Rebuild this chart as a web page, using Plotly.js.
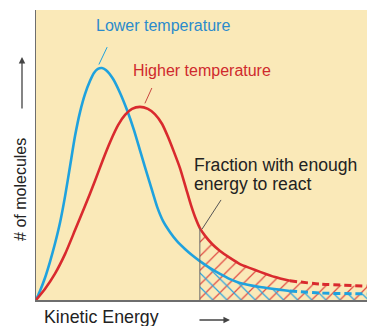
<!DOCTYPE html>
<html>
<head>
<meta charset="utf-8">
<script src="https://cdn.plot.ly/plotly-3.0.1.min.js"></script>
<style>html,body{margin:0;padding:0;background:#fff;}#chart{width:367px;height:326px;}</style>
</head>
<body>
<div id="chart"></div>
<script>
// Data (kinetic energy in arbitrary units 0..10, molecule count in arbitrary units 0..10)
const blueEnergy = [0, 0.12, 0.27, 0.42, 0.57, 0.73, 0.88, 1.03, 1.18, 1.33, 1.48, 1.63, 1.75, 1.87, 1.99, 2.11, 2.33, 2.54, 2.75, 2.96, 3.14, 3.29, 3.44, 3.66, 3.84, 4.05, 4.26, 4.50, 4.71, 4.95, 5.26, 5.56, 5.86, 6.16, 6.77, 7.67, 8.58, 10];
const blueCount  = [0, 0.31, 0.76, 1.31, 1.93, 2.69, 3.59, 4.62, 5.66, 6.48, 7.10, 7.55, 7.83, 7.97, 8.00, 7.93, 7.62, 7.14, 6.55, 5.86, 5.17, 4.59, 4.03, 3.21, 2.72, 2.34, 2.03, 1.76, 1.55, 1.34, 1.10, 0.90, 0.72, 0.59, 0.45, 0.31, 0.24, 0.21];
const redEnergy  = [0, 0.27, 0.57, 0.88, 1.18, 1.48, 1.78, 2.02, 2.24, 2.48, 2.69, 2.90, 3.14, 3.38, 3.59, 3.81, 3.99, 4.17, 4.35, 4.53, 4.68, 4.83, 4.95, 5.11, 5.32, 5.56, 5.86, 6.16, 6.47, 6.77, 7.22, 7.67, 8.58, 10];
const redCount   = [0, 0.38, 0.90, 1.59, 2.41, 3.24, 4.10, 4.83, 5.45, 6.03, 6.38, 6.59, 6.66, 6.59, 6.41, 6.07, 5.62, 5.10, 4.55, 3.86, 3.28, 2.79, 2.48, 2.21, 1.93, 1.69, 1.45, 1.24, 1.10, 0.97, 0.79, 0.66, 0.55, 0.48];
const thresholdEnergy = 4.95;   // minimum energy to react
const dashStart = 7.67;         // curves drawn dashed beyond this

const blueColor = '#1fa2de';
const redColor = '#d92a2e';

function interp(xs, ys, x) {
  for (let i = 1; i < xs.length; i++) {
    if (x <= xs[i]) {
      const t = (x - xs[i-1]) / (xs[i] - xs[i-1]);
      return ys[i-1] + t * (ys[i] - ys[i-1]);
    }
  }
  return ys[ys.length-1];
}
function segment(xs, ys, lo, hi) {
  const ox = [], oy = [];
  ox.push(lo); oy.push(interp(xs, ys, lo));
  for (let i = 0; i < xs.length; i++) if (xs[i] > lo && xs[i] < hi) { ox.push(xs[i]); oy.push(ys[i]); }
  ox.push(hi); oy.push(interp(xs, ys, hi));
  return [ox, oy];
}

const bSolid = segment(blueEnergy, blueCount, 0, dashStart);
const bDash = segment(blueEnergy, blueCount, dashStart, 10);
const rSolid = segment(redEnergy, redCount, 0, dashStart);
const rDash = segment(redEnergy, redCount, dashStart, 10);
const bHatch = segment(blueEnergy, blueCount, thresholdEnergy, 10);
const rHatch = segment(redEnergy, redCount, thresholdEnergy, 10);
const sm = 0.6;

const traces = [
  {x: rHatch[0], y: rHatch[1], type: 'scatter', mode: 'none', fill: 'tozeroy',
   fillcolor: 'rgba(0,0,0,0)', line: {shape: 'spline', smoothing: sm, width: 0},
   fillpattern: {shape: '/', fgcolor: '#e04a42', bgcolor: 'rgba(0,0,0,0)', size: 10, solidity: 0.12},
   hoverinfo: 'skip', showlegend: false, uid: 'hatchRed'},
  {x: bHatch[0], y: bHatch[1], type: 'scatter', mode: 'none', fill: 'tozeroy',
   fillcolor: 'rgba(0,0,0,0)', line: {shape: 'spline', smoothing: sm, width: 0},
   fillpattern: {shape: '\\', fgcolor: '#2aa4e0', bgcolor: 'rgba(0,0,0,0)', size: 10, solidity: 0.12},
   hoverinfo: 'skip', showlegend: false, uid: 'hatchBlue'},
  {x: bSolid[0], y: bSolid[1], type: 'scatter', mode: 'lines', line: {color: blueColor, width: 2.6, shape: 'spline', smoothing: sm}, showlegend: false},
  {x: bDash[0], y: bDash[1], type: 'scatter', mode: 'lines', line: {color: blueColor, width: 3, shape: 'spline', smoothing: sm, dash: '7px,4px'}, showlegend: false},
  {x: rSolid[0], y: rSolid[1], type: 'scatter', mode: 'lines', line: {color: redColor, width: 2.6, shape: 'spline', smoothing: sm}, showlegend: false},
  {x: rDash[0], y: rDash[1], type: 'scatter', mode: 'lines', line: {color: redColor, width: 3, shape: 'spline', smoothing: sm, dash: '7px,4px'}, showlegend: false}
];

const font = 'Liberation Sans, Arial, sans-serif';
const layout = {
  width: 367, height: 326,
  margin: {l: 36, r: 0, t: 10, b: 26, pad: 0},
  paper_bgcolor: '#ffffff',
  plot_bgcolor: '#fae9b8',
  showlegend: false,
  xaxis: {range: [0, 10], showgrid: false, zeroline: false, showticklabels: false, ticks: '',
          showline: true, linecolor: '#6e6e6e', linewidth: 1.5, fixedrange: true},
  yaxis: {range: [0, 10], showgrid: false, zeroline: false, showticklabels: false, ticks: '',
          showline: true, linecolor: '#6e6e6e', linewidth: 1.5, fixedrange: true},
  shapes: [
    {type: 'line', xref: 'x', yref: 'y', x0: thresholdEnergy, x1: thresholdEnergy, y0: 0,
     y1: interp(redEnergy, redCount, thresholdEnergy), line: {color: '#6a6a6a', width: 1}, layer: 'above'},
    {type: 'line', xref: 'x', yref: 'y', x0: 5.02, y0: 2.45, x1: 5.59, y1: 3.45, line: {color: '#555', width: 1}},
    {type: 'line', xref: 'x', yref: 'y', x0: 1.90, y0: 8.12, x1: 2.15, y1: 8.72, line: {color: blueColor, width: 1}},
    {type: 'line', xref: 'x', yref: 'y', x0: 3.29, y0: 6.78, x1: 3.50, y1: 7.31, line: {color: '#c9463f', width: 1}}
  ],
  annotations: [
    {xref: 'x', yref: 'y', x: 3.84, y: 9.45, text: 'Lower temperature', showarrow: false,
     font: {family: font, size: 16, color: '#2a8bcc'}, xanchor: 'center', yanchor: 'middle'},
    {xref: 'x', yref: 'y', x: 5.02, y: 7.93, text: 'Higher temperature', showarrow: false,
     font: {family: font, size: 16, color: '#cf2a2d'}, xanchor: 'center', yanchor: 'middle'},
    {xref: 'x', yref: 'y', x: 4.71, y: 4.66, text: 'Fraction with enough', showarrow: false,
     font: {family: font, size: 17.6, color: '#222'}, xanchor: 'left', yanchor: 'middle'},
    {xref: 'x', yref: 'y', x: 4.71, y: 4.0, text: 'energy to react', showarrow: false,
     font: {family: font, size: 17.6, color: '#222'}, xanchor: 'left', yanchor: 'middle'},
    {xref: 'paper', yref: 'paper', x: 0.199, y: -0.06, text: 'Kinetic Energy', showarrow: false,
     font: {family: font, size: 17.8, color: '#222'}, xanchor: 'center', yanchor: 'middle'},
    {xref: 'paper', yref: 'paper', x: -0.045, y: 0.38, text: '# of molecules', showarrow: false, textangle: -90,
     font: {family: font, size: 16, color: '#222'}, xanchor: 'center', yanchor: 'middle'},
    {xref: 'paper', yref: 'paper', x: 0.586, y: -0.069, text: '', showarrow: true, ax: -32, ay: 0,
     arrowhead: 2, arrowsize: 1, arrowwidth: 1.3, arrowcolor: '#444'},
    {xref: 'paper', yref: 'paper', x: -0.0423, y: 0.838, text: '', showarrow: true, ax: 0, ay: 53,
     arrowhead: 2, arrowsize: 1, arrowwidth: 1.3, arrowcolor: '#444'}
  ]
};

Plotly.newPlot('chart', traces, layout, {displayModeBar: false, staticPlot: true});
</script>
</body>
</html>
